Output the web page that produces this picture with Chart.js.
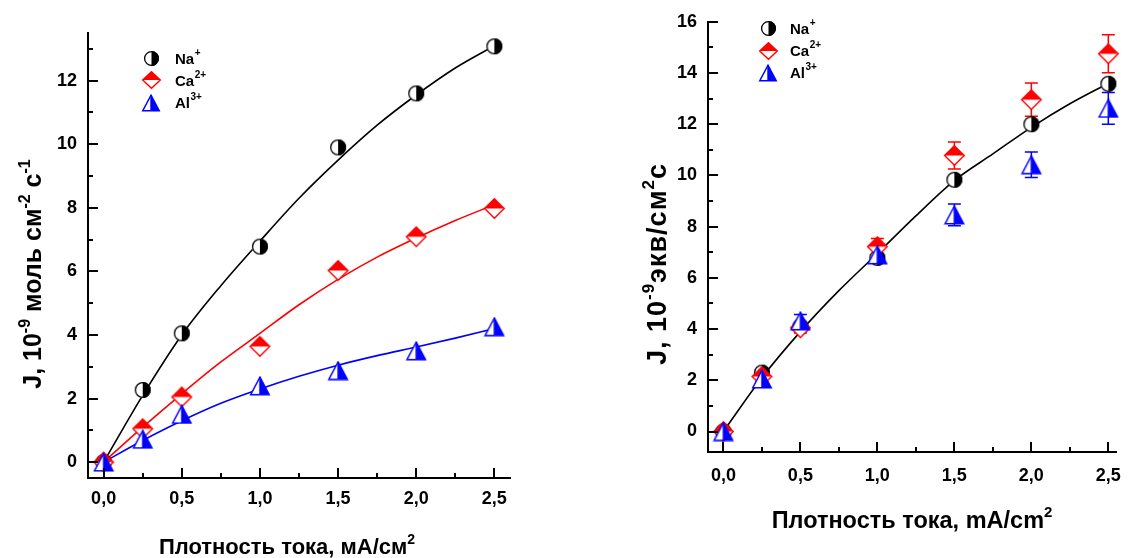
<!DOCTYPE html>
<html><head><meta charset="utf-8">
<script src="https://cdn.jsdelivr.net/npm/chart.js@4.4.1/dist/chart.umd.min.js"></script>
<style>
html,body{margin:0;padding:0;background:#fff;width:1134px;height:558px;overflow:hidden}
.box{position:absolute;top:0;width:567px;height:558px}
</style></head><body>
<div class="box" style="left:0"><canvas id="c1" width="567" height="558"></canvas></div>
<div class="box" style="left:567px"><canvas id="c2" width="567" height="558"></canvas></div>
<script>
const FONT = '"Liberation Sans", Arial, Helvetica, sans-serif';

// ---------- data ----------
const currentDensity = [0, 0.25, 0.5, 1.0, 1.5, 2.0, 2.5];

// left chart: molar flux, 10^-9 mol cm^-2 s^-1
const molarNa = [0, 2.27, 4.05, 6.78, 9.9, 11.6, 13.08];
const molarCa = [0, 1.05, 2.05, 3.64, 6.03, 7.09, 7.98];
const molarAl = [0, 0.72, 1.5, 2.4, 2.88, 3.5, 4.26];

// fitted curves
const fitX = [0, 0.25, 0.5, 0.75, 1.0, 1.25, 1.5, 1.75, 2.0, 2.25, 2.5];
const fitMolarNa = [0, 2.1, 4.0, 5.55, 6.95, 8.3, 9.5, 10.6, 11.55, 12.4, 13.1];
const fitMolarCa = [0, 1.1, 2.15, 3.15, 4.05, 4.95, 5.75, 6.45, 7.05, 7.6, 8.1];
const fitMolarAl = [0, 0.68, 1.3, 1.85, 2.3, 2.7, 3.05, 3.35, 3.62, 3.9, 4.2];

// right chart: equivalent flux, 10^-9 eq/cm^2 s
const equivNa = [0, 2.3, 4.1, 6.78, 9.83, 12.0, 13.58];
const equivCa = [0, 2.15, 4.05, 7.22, 10.78, 12.96, 14.75];
const equivCaErr = [0, 0.2, 0.2, 0.32, 0.53, 0.65, 0.74];
const equivAl = [0, 2.05, 4.32, 6.9, 8.46, 10.42, 12.62];
const equivAlErr = [0, 0.15, 0.25, 0.25, 0.42, 0.5, 0.62];
const fitEquivNa = [0, 2.1, 3.9, 5.5, 6.95, 8.42, 9.8, 10.84, 11.88, 12.8, 13.6];

// ticks
const xMajorTicks = [0, 0.5, 1.0, 1.5, 2.0, 2.5];
const xMinorTicks = [0.25, 0.75, 1.25, 1.75, 2.25];
const yMajorLeft = [0, 2, 4, 6, 8, 10, 12];
const yMinorLeft = [1, 3, 5, 7, 9, 11, 13];
const yMajorRight = [0, 2, 4, 6, 8, 10, 12, 14, 16];
const yMinorRight = [1, 3, 5, 7, 9, 11, 13, 15];

// legend
const ionNames = ['Na', 'Ca', 'Al'];
const ionCharges = ['+', '2+', '3+'];

// ---------- markers ----------
function circleMarker(d) {
  const s = Math.ceil(d) + 2, c = document.createElement('canvas');
  c.width = s; c.height = s;
  const g = c.getContext('2d'), cx = s / 2, cy = s / 2, r = d / 2;
  g.fillStyle = '#fff'; g.beginPath(); g.arc(cx, cy, r, 0, 2 * Math.PI); g.fill();
  g.fillStyle = '#000'; g.beginPath(); g.moveTo(cx, cy - r); g.arc(cx, cy, r, -Math.PI / 2, Math.PI / 2); g.closePath(); g.fill();
  g.strokeStyle = '#000'; g.lineWidth = 1.3; g.beginPath(); g.arc(cx, cy, r - 0.6, 0, 2 * Math.PI); g.stroke();
  return c;
}
function diamondMarker(w, h) {
  const c = document.createElement('canvas');
  c.width = w + 2; c.height = h + 2;
  const g = c.getContext('2d'), cx = c.width / 2, cy = c.height / 2, hw = w / 2 - 0.7, hh = h / 2 - 0.7;
  g.fillStyle = '#fff'; g.beginPath(); g.moveTo(cx, cy - hh); g.lineTo(cx + hw, cy); g.lineTo(cx, cy + hh); g.lineTo(cx - hw, cy); g.closePath(); g.fill();
  g.fillStyle = '#ff0000'; g.beginPath(); g.moveTo(cx, cy - hh); g.lineTo(cx + hw, cy); g.lineTo(cx - hw, cy); g.closePath(); g.fill();
  g.strokeStyle = '#ff0000'; g.lineWidth = 1.4; g.beginPath(); g.moveTo(cx, cy - hh); g.lineTo(cx + hw, cy); g.lineTo(cx, cy + hh); g.lineTo(cx - hw, cy); g.closePath(); g.stroke();
  return c;
}
function triangleMarker(w, h) {
  const c = document.createElement('canvas');
  c.width = w + 2; c.height = h + 2;
  const g = c.getContext('2d'), cx = c.width / 2, top = 1.2, bot = c.height - 1.2, hw = w / 2 - 0.7;
  g.fillStyle = '#fff'; g.beginPath(); g.moveTo(cx, top); g.lineTo(cx + hw, bot); g.lineTo(cx - hw, bot); g.closePath(); g.fill();
  g.fillStyle = '#0000ff'; g.beginPath(); g.moveTo(cx, top); g.lineTo(cx + hw, bot); g.lineTo(cx, bot); g.closePath(); g.fill();
  g.strokeStyle = '#0000ff'; g.lineWidth = 1.4; g.beginPath(); g.moveTo(cx, top); g.lineTo(cx + hw, bot); g.lineTo(cx - hw, bot); g.closePath(); g.stroke();
  g.beginPath(); g.moveTo(cx, top); g.lineTo(cx, bot); g.stroke();
  return c;
}
const mkNa = circleMarker(16), mkCa = diamondMarker(21, 21), mkAl = triangleMarker(20, 18);
const lgNa = circleMarker(15), lgCa = diamondMarker(19, 18), lgAl = triangleMarker(18, 16);

// ---------- helpers ----------
function pts(xs, ys) { return xs.map((x, i) => ({ x: x, y: ys[i] })); }

function drawRich(ctx, segs, cx, cy, rotate, size, supRatio, spacing) {
  ctx.save();
  ctx.translate(cx, cy);
  if (rotate) ctx.rotate(-Math.PI / 2);
  ctx.letterSpacing = (spacing || 0) + 'px';
  const fB = `bold ${size}px ${FONT}`, fS = `bold ${Math.round(size * supRatio)}px ${FONT}`;
  let total = 0;
  const ws = segs.map(s => { ctx.font = s.sup ? fS : fB; const w = ctx.measureText(s.t).width; total += w; return w; });
  let x = -total / 2;
  ctx.fillStyle = '#000'; ctx.textAlign = 'left'; ctx.textBaseline = 'alphabetic';
  segs.forEach((s, i) => { ctx.font = s.sup ? fS : fB; ctx.fillText(s.t, x, s.sup ? -size * 0.45 : 0); x += ws[i]; });
  ctx.restore();
}

function makeDecor(cfg) {
  return {
    id: 'decor',
    beforeDatasetsDraw(chart) {
      const ctx = chart.ctx, ys = chart.scales.y;
      ctx.save();
      chart.data.datasets.forEach((ds, di) => {
        if (!ds.errorBars) return;
        const meta = chart.getDatasetMeta(di);
        ctx.strokeStyle = ds.errColor; ctx.lineWidth = 1.5;
        meta.data.forEach((p, j) => {
          const e = ds.errorBars[j]; if (!e) return;
          const v = ds.data[j].y;
          const t = ys.getPixelForValue(v + e), b = ys.getPixelForValue(v - e);
          ctx.beginPath();
          ctx.moveTo(p.x, t); ctx.lineTo(p.x, b);
          ctx.moveTo(p.x - 6.5, t); ctx.lineTo(p.x + 6.5, t);
          ctx.moveTo(p.x - 6.5, b); ctx.lineTo(p.x + 6.5, b);
          ctx.stroke();
        });
      });
      ctx.restore();
    },
    afterDraw(chart) {
      const ctx = chart.ctx, a = chart.chartArea, xs = chart.scales.x, ys = chart.scales.y;
      ctx.save();
      ctx.strokeStyle = '#000'; ctx.lineWidth = 2;
      ctx.beginPath();
      cfg.xMajor.forEach(v => { const p = Math.round(xs.getPixelForValue(v)); ctx.moveTo(p, a.bottom); ctx.lineTo(p, a.bottom - 10); });
      cfg.xMinor.forEach(v => { const p = Math.round(xs.getPixelForValue(v)); ctx.moveTo(p, a.bottom); ctx.lineTo(p, a.bottom - 5); });
      cfg.yMajor.forEach(v => { const p = Math.round(ys.getPixelForValue(v)); ctx.moveTo(a.left, p); ctx.lineTo(a.left + 10, p); });
      cfg.yMinor.forEach(v => { const p = Math.round(ys.getPixelForValue(v)); ctx.moveTo(a.left, p); ctx.lineTo(a.left + 5, p); });
      ctx.stroke();
      // legend
      const L = cfg.legend;
      L.markers.forEach((m, i) => {
        const y = L.y0 + i * L.dy;
        ctx.drawImage(m, Math.round(L.mx - m.width / 2), Math.round(y - m.height / 2));
        ctx.fillStyle = '#000'; ctx.textAlign = 'left'; ctx.textBaseline = 'alphabetic';
        ctx.font = `bold 15px ${FONT}`;
        ctx.fillText(ionNames[i], L.tx, y + 5.5);
        const w = ctx.measureText(ionNames[i]).width;
        ctx.font = `bold 10px ${FONT}`;
        ctx.fillText(ionCharges[i], L.tx + w + 0.5, y - 2.5);
      });
      drawRich(ctx, cfg.xTitle.segs, cfg.xTitle.x, cfg.xTitle.y, false, cfg.xTitle.size, 0.62, 0);
      drawRich(ctx, cfg.yTitle.segs, cfg.yTitle.x, cfg.yTitle.y, true, cfg.yTitle.size, 0.62, cfg.yTitle.spacing);
      ctx.restore();
    }
  };
}

const tickFont = { family: FONT, size: 18, weight: 'bold' };
function xAxis(min, max, h, pad) {
  return {
    type: 'linear', min: min, max: max,
    afterBuildTicks: s => { s.ticks = xMajorTicks.map(v => ({ value: v })); },
    afterFit: s => { s.height = h; },
    ticks: { callback: v => v.toFixed(1).replace('.', ','), font: tickFont, color: '#000', padding: pad, maxRotation: 0, autoSkip: false },
    grid: { display: false, drawTicks: false },
    border: { display: true, color: '#000', width: 2 }
  };
}
function yAxis(min, max, w, majors) {
  return {
    type: 'linear', min: min, max: max,
    afterBuildTicks: s => { s.ticks = majors.map(v => ({ value: v })); },
    afterFit: s => { s.width = w; },
    ticks: { callback: v => String(v), font: tickFont, color: '#000', padding: 11, autoSkip: false },
    grid: { display: false, drawTicks: false },
    border: { display: true, color: '#000', width: 2 }
  };
}
function markerSet(label, data, mk, order, err, errColor) {
  const d = { label: label, data: data, showLine: false, pointStyle: mk, pointRadius: 8, pointHoverRadius: 8, clip: false, order: order };
  if (err) { d.errorBars = err; d.errColor = errColor; }
  return d;
}
function fitSet(data, color) {
  return { data: data, showLine: true, pointRadius: 0, borderColor: color, borderWidth: 1.6, cubicInterpolationMode: 'monotone', fill: false, order: 10 };
}
function baseOpts(pad) {
  return {
    responsive: false, animation: false, events: [],
    layout: { padding: pad },
    plugins: { legend: { display: false }, tooltip: { enabled: false } }
  };
}
// nudge layout padding so the plot area lands on the wanted box
function placeArea(chart, want) {
  for (let k = 0; k < 3; k++) {
    const a = chart.chartArea, p = chart.options.layout.padding;
    const dt = want.top - a.top, db = a.bottom - want.bottom, dl = want.left - a.left, dr = a.right - want.right;
    if (Math.abs(dt) < 0.5 && Math.abs(db) < 0.5 && Math.abs(dl) < 0.5 && Math.abs(dr) < 0.5) break;
    p.top += dt; p.bottom += db; p.left += dl; p.right += dr;
    chart.update();
  }
}

// ---------- left chart ----------
const c1 = new Chart(document.getElementById('c1'), {
  type: 'scatter',
  data: {
    datasets: [
      markerSet('Na+', pts(currentDensity, molarNa), mkNa, 3),
      markerSet('Ca2+', pts(currentDensity, molarCa), mkCa, 2),
      markerSet('Al3+', pts(currentDensity, molarAl), mkAl, 1),
      fitSet(pts(fitX, fitMolarNa), '#000'),
      fitSet(pts(fitX, fitMolarCa), '#ff0000'),
      fitSet(pts(fitX, fitMolarAl), '#0000ff')
    ]
  },
  options: Object.assign(baseOpts({ top: 33, right: 57, left: 0, bottom: 0 }), {
    scales: { x: xAxis(-0.1, 2.6, 80, 10), y: yAxis(-0.5, 13.5, 88, yMajorLeft) }
  }),
  plugins: [makeDecor({
    xMajor: xMajorTicks, xMinor: xMinorTicks, yMajor: yMajorLeft, yMinor: yMinorLeft,
    legend: { markers: [lgNa, lgCa, lgAl], mx: 151, tx: 175, y0: 58, dy: 22.3 },
    xTitle: { x: 287, y: 554, size: 22, segs: [{ t: 'Плотность тока, мА/см' }, { t: '2', sup: true }] },
    yTitle: { x: 41, y: 274, size: 25, spacing: 0, segs: [{ t: 'J, 10' }, { t: '-9', sup: true }, { t: ' моль см' }, { t: '-2', sup: true }, { t: ' с' }, { t: '-1', sup: true }] }
  })]
});
placeArea(c1, { left: 88, right: 510, top: 33, bottom: 478 });

// ---------- right chart ----------
const c2 = new Chart(document.getElementById('c2'), {
  type: 'scatter',
  data: {
    datasets: [
      markerSet('Na+', pts(currentDensity, equivNa), mkNa, 3),
      markerSet('Ca2+', pts(currentDensity, equivCa), mkCa, 2, equivCaErr, '#ff0000'),
      markerSet('Al3+', pts(currentDensity, equivAl), mkAl, 1, equivAlErr, '#0000ff'),
      fitSet(pts(fitX, fitEquivNa), '#000')
    ]
  },
  options: Object.assign(baseOpts({ top: 16, right: 13, left: 0, bottom: 0 }), {
    scales: { x: xAxis(-0.1, 2.55, 106, 13), y: yAxis(-0.8, 16, 141, yMajorRight) }
  }),
  plugins: [makeDecor({
    xMajor: xMajorTicks, xMinor: xMinorTicks, yMajor: yMajorRight, yMinor: yMinorRight,
    legend: { markers: [lgNa, lgCa, lgAl], mx: 201, tx: 223, y0: 28.5, dy: 22.2 },
    xTitle: { x: 345, y: 528, size: 23.5, segs: [{ t: 'Плотность тока, mA/cm' }, { t: '2', sup: true }] },
    yTitle: { x: 99, y: 264, size: 27, spacing: 1, segs: [{ t: 'J, 10' }, { t: '-9', sup: true }, { t: 'экв/см' }, { t: '2', sup: true }, { t: 'с' }] }
  })]
});
placeArea(c2, { left: 141, right: 554, top: 16, bottom: 452 });
</script>
</body></html>
